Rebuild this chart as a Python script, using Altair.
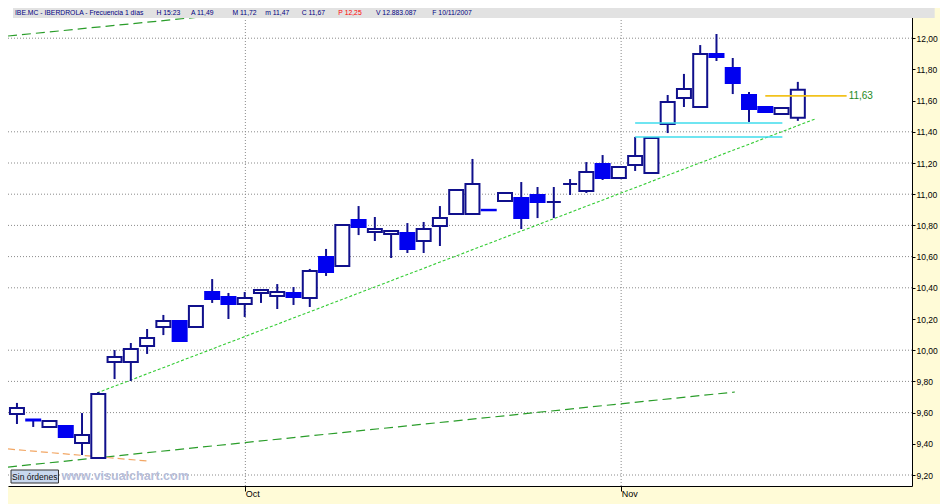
import altair as alt
import pandas as pd

# ---------------- data ----------------
opens  = [9.591, 9.555, 9.508, 9.514, 9.405, 9.309, 9.924, 9.924, 10.027, 10.149,
          10.187, 10.149, 10.373, 10.341, 10.296, 10.367, 10.347, 10.367, 10.335, 10.597,
          10.540, 10.835, 10.758, 10.745, 10.751, 10.700, 10.796, 10.873, 10.873, 10.900,
          10.956, 10.976, 10.995, 10.950, 11.065, 11.021, 11.194, 11.104, 11.187, 11.136,
          11.450, 11.617, 11.559, 11.899, 11.809, 11.636, 11.559, 11.514, 11.49]
highs  = [9.662, 9.555, 9.546, 9.514, 9.597, 9.732, 10.001, 10.046, 10.136, 10.226,
          10.187, 10.283, 10.456, 10.367, 10.373, 10.386, 10.424, 10.405, 10.521, 10.649,
          10.803, 10.924, 10.854, 10.764, 10.815, 10.822, 10.924, 11.027, 11.226, 10.900,
          11.008, 11.078, 11.046, 11.046, 11.097, 11.206, 11.251, 11.174, 11.367, 11.360,
          11.636, 11.771, 11.956, 12.027, 11.873, 11.655, 11.559, 11.553, 11.72]
lows   = [9.527, 9.508, 9.508, 9.444, 9.328, 9.309, 9.815, 9.803, 9.976, 10.097,
          10.059, 10.149, 10.303, 10.200, 10.213, 10.303, 10.264, 10.290, 10.277, 10.476,
          10.540, 10.738, 10.700, 10.591, 10.623, 10.623, 10.668, 10.873, 10.873, 10.897,
          10.956, 10.777, 10.847, 10.847, 10.995, 11.008, 11.091, 11.104, 11.149, 11.136,
          11.392, 11.559, 11.559, 11.854, 11.642, 11.463, 11.527, 11.514, 11.47]
closes = [9.629, 9.550, 9.546, 9.444, 9.456, 9.719, 9.956, 10.008, 10.078, 10.187,
          10.059, 10.283, 10.328, 10.296, 10.335, 10.386, 10.373, 10.341, 10.508, 10.501,
          10.803, 10.790, 10.777, 10.764, 10.649, 10.777, 10.847, 11.027, 11.065, 10.897,
          11.008, 10.847, 10.950, 10.950, 11.065, 11.142, 11.104, 11.174, 11.245, 11.360,
          11.591, 11.674, 11.899, 11.879, 11.713, 11.546, 11.527, 11.553, 11.67]
sessions = list(range(1, len(opens) + 1))

# drawn trendlines (session index, price)
trend_x = [5.92, 50.06]
trend_y = [9.726, 11.482]
chan_low_x = [0.45, 45.13]
chan_low_y = [9.251, 9.732]
chan_high_x = [0.45, 15.9]
chan_high_y = [12.014, 12.174]
orange_x = [0.45, 8.96]
orange_y = [9.367, 9.290]
cyan_levels = [11.456, 11.367]
cyan_x = [39.0, 48.05]
yellow_level = 11.63
yellow_x = [47.0, 52.0]
yellow_label = "11,63"

y_ticks = [9.2, 9.4, 9.6, 9.8, 10.0, 10.2, 10.4, 10.6, 10.8, 11.0, 11.2, 11.4, 11.6, 11.8, 12.0]
grid_levels = [9.2, 9.6, 9.8, 10.0, 10.4, 10.6, 10.8, 11.0, 11.2, 11.4, 12.0]
month_pos = [15.04, 38.14]
month_labels = ["Oct", "Nov"]

title_parts = ["IBE.MC - IBERDROLA - Frecuencia 1 días", "H 15:23", "A 11,49", "M 11,72",
               "m 11,47", "C 11,67", "P 12,25", "V 12.883.087", "F 10/11/2007"]
title_colors = ["#000080"] * 6 + ["#ff0000"] + ["#000080"] * 2

# ---------------- layout helpers ----------------
PX_PER_SESSION = 16.45
def px_i(px):
    return 1 + (px - 12) / PX_PER_SESSION
def px_v(py):
    return 9.2 + (475 - py) / 156.0

XMIN, XMAX = px_i(8), px_i(912)
YMIN, YMAX = px_v(486), px_v(8)
title_px = [10, 153, 188, 230, 263, 300, 337, 375, 432]

FONT = "Liberation Sans"
NAVY = "#10108c"
BLUE = "#0000f0"

xs = alt.Scale(domain=[XMIN, XMAX], nice=False, zero=False)
ys = alt.Scale(domain=[YMIN, YMAX], nice=False, zero=False)

month_js = "[" + ",".join("'%s'" % m for m in month_labels) + "]"
x_axis = alt.Axis(orient="bottom", values=month_pos,
                  labelExpr="%s[indexof(%s, datum.value)]" % (month_js, str(month_pos)),
                  grid=False, tickSize=5, tickColor="black", domainColor="black",
                  labelAlign="left", labelBaseline="top", labelPadding=-2,
                  labelFont=FONT, labelFontSize=9, labelColor="black", title=None)
y_axis = alt.Axis(orient="right", values=y_ticks,
                  labelExpr="replace(format(datum.value, '.2f'), '.', ',')",
                  grid=False, tickSize=3, tickColor="black", domainColor="black",
                  labelFont=FONT, labelFontSize=8.5, labelColor="black", labelPadding=1,
                  labelFlush=False, labelOverlap=False, title=None)

def X(field="x"):
    return alt.X(f"{field}:Q", scale=xs, axis=x_axis)
def Y(field="y"):
    return alt.Y(f"{field}:Q", scale=ys, axis=y_axis)

# ---------------- frames ----------------
candles = pd.DataFrame({"x": sessions, "o": opens, "h": highs, "l": lows, "c": closes})
candles["lo"] = candles[["o", "c"]].min(axis=1)
candles["hi"] = candles[["o", "c"]].max(axis=1)
up = candles[candles["c"] >= candles["o"]]
down = candles[candles["c"] < candles["o"]]

grid_h = alt.Chart(pd.DataFrame({"y": grid_levels})).mark_rule(
    color="#8a8a8a", strokeDash=[1, 2], strokeWidth=1).encode(y=Y())
grid_v = alt.Chart(pd.DataFrame({"x": month_pos})).mark_rule(
    color="#8a8a8a", strokeDash=[1, 2], strokeWidth=1).encode(x=X())

def line(xv, yv, color, dash, width=1.0):
    return alt.Chart(pd.DataFrame({"x": xv, "y": yv})).mark_line(
        color=color, strokeDash=dash, strokeWidth=width, clip=True).encode(x=X(), y=Y())

trend = line(trend_x, trend_y, "#33cc33", [3, 2], 1.1)
chan_lo = line(chan_low_x, chan_low_y, "#2a9d2a", [9, 5], 1.2)
chan_hi = line(chan_high_x, chan_high_y, "#2a9d2a", [9, 5], 1.2)
orange = line(orange_x, orange_y, "#f2a765", [7, 4], 1.2)

wicks = alt.Chart(candles).mark_rule(color=NAVY, strokeWidth=2).encode(
    x=X(), y=Y("l"), y2="h")
bodies_up = alt.Chart(up).mark_bar(size=14, fill="white", stroke=NAVY, strokeWidth=2).encode(
    x=X(), y=Y("lo"), y2="hi")
bodies_dn = alt.Chart(down).mark_bar(size=14, fill=BLUE, stroke=BLUE, strokeWidth=2).encode(
    x=X(), y=Y("lo"), y2="hi")

cyan_df = pd.DataFrame({"x": [cyan_x[0]] * 2, "x2": [cyan_x[1]] * 2, "y": cyan_levels})
cyan = alt.Chart(cyan_df).mark_rule(color="#3fdcec", strokeWidth=1.6).encode(
    x=X(), x2="x2", y=Y())
yel_df = pd.DataFrame({"x": [yellow_x[0]], "x2": [yellow_x[1]], "y": [yellow_level], "t": [yellow_label]})
yellow = alt.Chart(yel_df).mark_rule(color="#f2c21c", strokeWidth=1.6).encode(
    x=X(), x2="x2", y=Y())
yellow_txt = alt.Chart(yel_df).mark_text(align="left", baseline="middle", dx=2, font=FONT,
                                         fontSize=10, color="#1e8a1e").encode(
    x=X("x2"), y=Y(), text="t:N")

# decorations
wm = alt.Chart(pd.DataFrame({"x": [px_i(57)], "y": [px_v(476)], "t": ["www.visualchart.com"]})).mark_text(
    align="left", baseline="middle", font=FONT, fontSize=12.5, fontWeight="bold",
    color="#b6bdd9").encode(x=X(), y=Y(), text="t:N")
btn = alt.Chart(pd.DataFrame({"x": [px_i(6)], "x2": [px_i(54)], "y": [px_v(483)], "y2": [px_v(470)]})).mark_rect(
    fill="#c9d8ef", stroke="#333333", strokeWidth=1, clip=True).encode(
    x=X(), x2="x2", y=Y(), y2="y2")
btn_txt = alt.Chart(pd.DataFrame({"x": [px_i(30)], "y": [px_v(476.5)], "t": ["Sin órdenes"]})).mark_text(
    align="center", baseline="middle", font=FONT, fontSize=8.5, color="#111111").encode(
    x=X(), y=Y(), text="t:N")

bar = alt.Chart(pd.DataFrame({"x": [XMIN], "x2": [px_i(940)], "y": [px_v(18)], "y2": [YMAX]})).mark_rect(
    fill="#e2e2e2", clip=False).encode(x=X(), x2="x2", y=Y(), y2="y2")
title_df = pd.DataFrame({"x": [px_i(p) for p in title_px], "y": [px_v(13)] * len(title_parts),
                         "t": title_parts, "col": title_colors})
title_txt = alt.Chart(title_df).mark_text(align="left", baseline="middle", font=FONT,
                                          fontSize=6.8).encode(
    x=X(), y=Y(), text="t:N", color=alt.Color("col:N", scale=None))

chart = alt.layer(
    grid_h, grid_v, chan_lo, chan_hi, orange, trend, wicks, bodies_up, bodies_dn,
    cyan, yellow, yellow_txt, wm, btn, btn_txt, bar, title_txt
).properties(
    width=904, height=478,
    padding={"left": 0, "top": 0, "right": 28, "bottom": 18},
    autosize=alt.AutoSizeParams(type="none"),
    background="#fffbd7",
).configure_view(stroke=None, fill="white")

chart.save("out.html", embed_options={"renderer": "svg", "actions": False})
